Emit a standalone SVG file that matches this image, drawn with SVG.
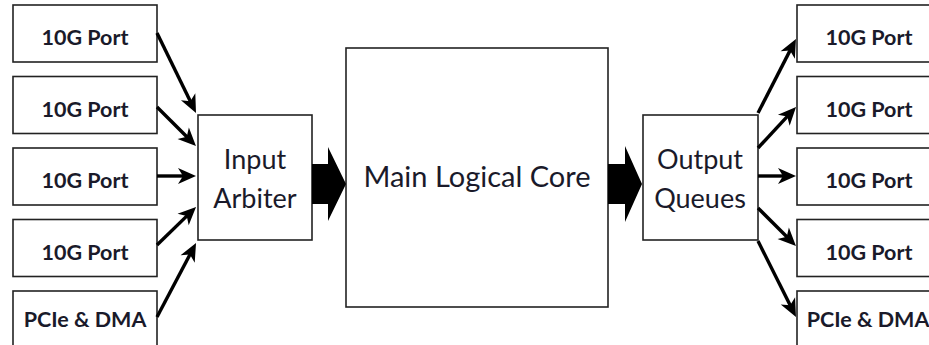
<svg xmlns="http://www.w3.org/2000/svg" width="929" height="345" viewBox="0 0 929 345">
<defs>
<style>
.box{fill:#fff;stroke:#222;stroke-width:1.6}
.port{font-family:Lato,"Liberation Sans",sans-serif;font-size:21.5px;font-weight:bold;fill:#1a1a2a;text-anchor:middle}
.big{font-family:Lato,"Liberation Sans",sans-serif;font-size:27px;fill:#1a1a2a;text-anchor:middle}
.core{font-family:Lato,"Liberation Sans",sans-serif;font-size:29px;fill:#1a1a2a;text-anchor:middle}
.conn{stroke:#000;stroke-width:3.4;fill:none;marker-end:url(#head)}
.block{fill:#000}
</style>
<marker id="head" markerUnits="userSpaceOnUse" markerWidth="19" markerHeight="18" viewBox="0 0 19 18" refX="11" refY="9" orient="auto">
<path d="M1,1 L19,9 L1,17 L6,9 Z" fill="#000"/>
</marker>
</defs>
<rect width="929" height="345" fill="#fff"/>

<g id="in-port-1"><rect class="box" x="13" y="5" width="144" height="57"/><text class="port" x="85" y="45">10G Port</text></g>
<g id="in-port-2"><rect class="box" x="13" y="76.5" width="144" height="57"/><text class="port" x="85" y="116.5">10G Port</text></g>
<g id="in-port-3"><rect class="box" x="13" y="148" width="144" height="57"/><text class="port" x="85" y="188">10G Port</text></g>
<g id="in-port-4"><rect class="box" x="13" y="219.5" width="144" height="57"/><text class="port" x="85" y="259.5">10G Port</text></g>
<g id="in-pcie"><rect class="box" x="13" y="291" width="144" height="70"/><text class="port" x="85" y="327">PCIe &amp; DMA</text></g>

<g id="input-arbiter"><rect class="box" x="198" y="115" width="114" height="125"/><text class="big" x="255" y="169">Input</text><text class="big" x="255" y="208">Arbiter</text></g>

<g id="main-core"><rect class="box" x="346" y="48" width="262" height="259"/><text class="core" x="477" y="187">Main Logical Core</text></g>

<g id="output-queues"><rect class="box" x="643" y="115" width="115" height="125"/><text class="big" x="700" y="169">Output</text><text class="big" x="700" y="208">Queues</text></g>

<g id="out-port-1"><rect class="box" x="797" y="5" width="150" height="57"/><text class="port" x="869" y="45">10G Port</text></g>
<g id="out-port-2"><rect class="box" x="797" y="76.5" width="150" height="57"/><text class="port" x="869" y="116.5">10G Port</text></g>
<g id="out-port-3"><rect class="box" x="797" y="148" width="150" height="57"/><text class="port" x="869" y="188">10G Port</text></g>
<g id="out-port-4"><rect class="box" x="797" y="219.5" width="150" height="57"/><text class="port" x="869" y="259.5">10G Port</text></g>
<g id="out-pcie"><rect class="box" x="797" y="291" width="150" height="70"/><text class="port" x="868" y="327">PCIe &amp; DMA</text></g>

<g id="connectors">
<line class="conn" x1="157" y1="33" x2="192.5" y2="105.8"/>
<line class="conn" x1="157" y1="107" x2="190.3" y2="140.3"/>
<line class="conn" x1="157" y1="176" x2="188" y2="176"/>
<line class="conn" x1="157" y1="245" x2="190.3" y2="212.6"/>
<line class="conn" x1="157" y1="317" x2="192.3" y2="250.1"/>
<polygon class="block" points="312,164 328,164 328,147 346,184 328,221 328,204 312,204"/>
<polygon class="block" points="608,164 625,164 625,146 642,184 625,222 625,204 608,204"/>
<line class="conn" x1="758" y1="113" x2="792.3" y2="46.1"/>
<line class="conn" x1="758" y1="148" x2="790.6" y2="112.9"/>
<line class="conn" x1="758" y1="176" x2="788" y2="176"/>
<line class="conn" x1="758" y1="208" x2="790.3" y2="240.3"/>
<line class="conn" x1="758" y1="241" x2="792.4" y2="309.8"/>
</g>
</svg>
